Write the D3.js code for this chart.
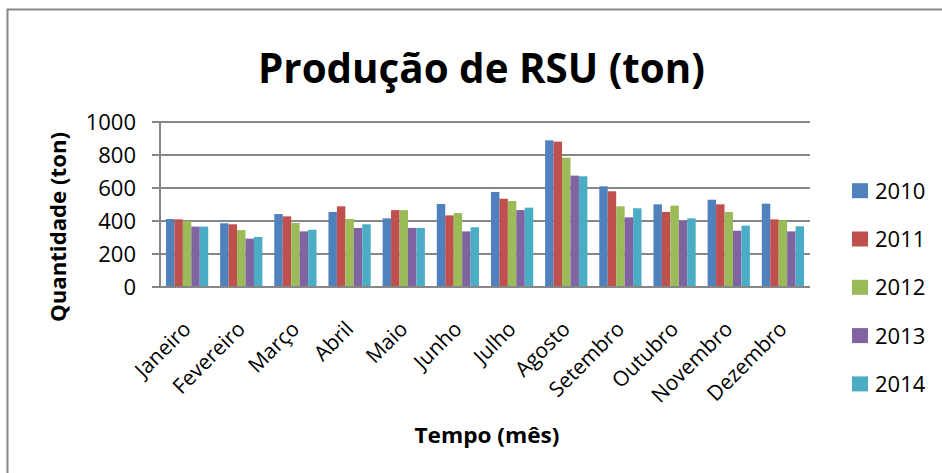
<!DOCTYPE html>
<html>
<head>
<meta charset="utf-8">
<script src="https://cdn.jsdelivr.net/npm/d3@7"></script>
<style>
  body { margin: 0; background: #fff; }
  text { font-family: "Open Sans", "Noto Sans", sans-serif; fill: #000; }
</style>
</head>
<body>
<div id="chart"></div>
<script>
// Data
var months = ["Janeiro", "Fevereiro", "Março", "Abril", "Maio", "Junho",
              "Julho", "Agosto", "Setembro", "Outubro", "Novembro", "Dezembro"];
var years = ["2010", "2011", "2012", "2013", "2014"];
var v2010 = [412, 386, 442, 455, 416, 503, 576, 889, 610, 501, 529, 505];
var v2011 = [410, 380, 428, 489, 466, 434, 535, 881, 580, 455, 501, 410];
var v2012 = [400, 345, 388, 412, 466, 448, 521, 784, 489, 493, 455, 404];
var v2013 = [366, 293, 337, 358, 358, 337, 466, 675, 422, 400, 341, 337];
var v2014 = [366, 303, 347, 380, 358, 362, 481, 671, 477, 416, 372, 368];
var yTicks = [0, 200, 400, 600, 800, 1000];
var colors = ["#4F81BD", "#C0504D", "#9BBB59", "#8064A2", "#4BACC6"];

var series = [v2010, v2011, v2012, v2013, v2014];

var W = 942, H = 473;
var plot = { left: 160, right: 810, top: 122, bottom: 287 };

var svg = d3.select("#chart").append("svg")
    .attr("width", W)
    .attr("height", H);

// Outer chart border
svg.append("rect")
    .attr("x", 7.5).attr("y", 9.5)
    .attr("width", W + 20).attr("height", H + 20)
    .attr("fill", "none")
    .attr("stroke", "#878787")
    .attr("stroke-width", 2);

// Scales
var x0 = d3.scaleBand()
    .domain(months)
    .range([plot.left, plot.right])
    .paddingInner(0.22)
    .paddingOuter(0.11);
var x1 = d3.scaleBand()
    .domain(years)
    .range([0, x0.bandwidth()]);
var y = d3.scaleLinear()
    .domain([0, 1000])
    .range([plot.bottom, plot.top]);
var color = d3.scaleOrdinal().domain(years).range(colors);

// Gridlines
svg.append("g")
    .selectAll("line")
    .data(yTicks.filter(function (d) { return d > 0; }))
    .enter().append("line")
    .attr("x1", plot.left - 8).attr("x2", plot.right)
    .attr("y1", function (d) { return y(d); })
    .attr("y2", function (d) { return y(d); })
    .attr("stroke", "#878787")
    .attr("stroke-width", 2);

// Bars
var rows = months.map(function (m, i) {
    return { month: m, values: years.map(function (yr, j) { return { year: yr, value: series[j][i] }; }) };
});

svg.append("g")
    .selectAll("g")
    .data(rows)
    .enter().append("g")
    .attr("transform", function (d) { return "translate(" + x0(d.month) + ",0)"; })
    .selectAll("rect")
    .data(function (d) { return d.values; })
    .enter().append("rect")
    .attr("x", function (d) { return x1(d.year); })
    .attr("width", x1.bandwidth())
    .attr("y", function (d) { return y(d.value); })
    .attr("height", function (d) { return y(0) - y(d.value); })
    .attr("fill", function (d) { return color(d.year); });

// Axis lines
svg.append("line")
    .attr("x1", plot.left).attr("x2", plot.left)
    .attr("y1", plot.top).attr("y2", plot.bottom)
    .attr("stroke", "#878787").attr("stroke-width", 2);
svg.append("line")
    .attr("x1", plot.left - 8).attr("x2", plot.right)
    .attr("y1", plot.bottom).attr("y2", plot.bottom)
    .attr("stroke", "#878787").attr("stroke-width", 2);

// Y tick labels
svg.append("g")
    .selectAll("text")
    .data(yTicks)
    .enter().append("text")
    .attr("x", 136)
    .attr("y", function (d) { return y(d); })
    .attr("dy", "0.36em")
    .attr("text-anchor", "end")
    .style("font-size", "22px")
    .text(function (d) { return d; });

// X tick labels, rotated
svg.append("g")
    .selectAll("text")
    .data(months)
    .enter().append("text")
    .attr("transform", function (d) {
        return "translate(" + (x0(d) + x0.bandwidth() / 2) + ",325) rotate(-45)";
    })
    .attr("dy", "0.35em")
    .attr("text-anchor", "end")
    .style("font-size", "21px")
    .text(function (d) { return d; });

// Title
svg.append("text")
    .attr("x", 481.5)
    .attr("y", 83)
    .attr("text-anchor", "middle")
    .attr("textLength", 447)
    .attr("lengthAdjust", "spacingAndGlyphs")
    .style("font-size", "41px")
    .style("font-weight", "bold")
    .text("Produção de RSU (ton)");

// Y axis title
svg.append("text")
    .attr("transform", "translate(66,227) rotate(-90)")
    .attr("text-anchor", "middle")
    .attr("textLength", 190)
    .attr("lengthAdjust", "spacingAndGlyphs")
    .style("font-size", "21px")
    .style("font-weight", "bold")
    .text("Quantidade (ton)");

// X axis title
svg.append("text")
    .attr("x", 487)
    .attr("y", 443)
    .attr("text-anchor", "middle")
    .attr("textLength", 145)
    .attr("lengthAdjust", "spacingAndGlyphs")
    .style("font-size", "22px")
    .style("font-weight", "bold")
    .text("Tempo (mês)");

// Legend
var legend = svg.append("g")
    .selectAll("g")
    .data(years)
    .enter().append("g")
    .attr("transform", function (d, i) { return "translate(852," + (190.7 + i * 48.3) + ")"; });

legend.append("rect")
    .attr("x", 0).attr("y", -7.5)
    .attr("width", 16).attr("height", 15)
    .attr("fill", function (d) { return color(d); });

legend.append("text")
    .attr("x", 23)
    .attr("dy", "0.36em")
    .style("font-size", "22px")
    .text(function (d) { return d; });
</script>
</body>
</html>
